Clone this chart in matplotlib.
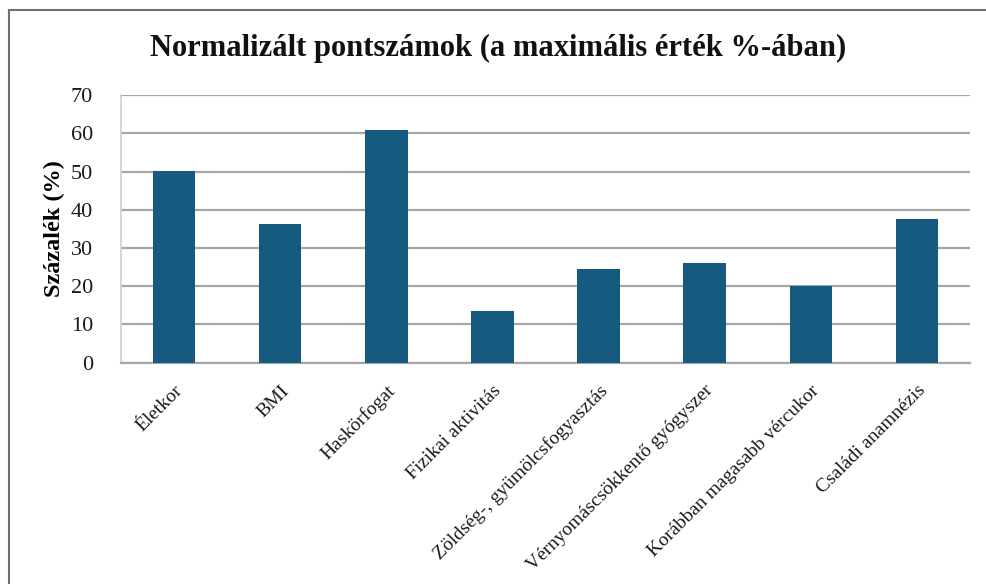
"""
Normalizált pontszámok oszlopdiagram
"""

import matplotlib
matplotlib.use('Agg')
import matplotlib.pyplot as plt
from matplotlib.lines import Line2D

plt.rcParams['font.family'] = ['Liberation Serif', 'DejaVu Serif']

# adatok
categories = ['Életkor', 'BMI', 'Haskörfogat', 'Fizikai aktivitás',
              'Zöldség-, gyümölcsfogyasztás', 'Vérnyomáscsökkentő gyógyszer',
              'Korábban magasabb vércukor', 'Családi anamnézis']
values = [50.1, 36.2, 60.9, 13.6, 24.4, 26.0, 20.1, 37.6]
y_ticks = [0, 10, 20, 30, 40, 50, 60, 70]

bar_color = '#175a80'
grid_color = '#a6a6a6'


def main():
    fig = plt.figure(figsize=(9.86, 5.84), dpi=100)
    ax = fig.add_axes([0.1227, 0.379, 0.861, 0.458])

    x = list(range(len(categories)))
    ax.bar(x, values, width=0.4, color=bar_color, zorder=3)

    ax.set_xlim(-0.5, len(categories) - 0.5)
    ax.set_ylim(0, 70)
    ax.set_yticks(y_ticks)
    ax.yaxis.grid(True, color=grid_color, linewidth=1.6, zorder=0)
    ax.tick_params(axis='both', length=0)
    ax.tick_params(axis='y', labelsize=16, pad=20, colors='#1a1a1a')

    ax.set_xticks(x)
    ax.set_xticklabels(categories, rotation=45, ha='right',
                       rotation_mode='anchor', fontsize=14, color='#1a1a1a')
    ax.tick_params(axis='x', pad=14)

    for side in ['top', 'right']:
        ax.spines[side].set_visible(False)
    ax.spines['bottom'].set_color(grid_color)
    ax.spines['bottom'].set_linewidth(1.6)
    ax.spines['left'].set_color('#d0d0d0')
    ax.spines['left'].set_linewidth(1.2)

    ax.set_ylabel('Százalék (%)', fontsize=17.5, fontweight='bold', labelpad=4)

    fig.text(0.505, 1 - 56 / 584, 'Normalizált pontszámok (a maximális érték %-ában)',
             ha='center', va='baseline', fontsize=22, fontweight='bold', color='#111111')

    # keret (bal és felső vonal)
    fig.add_artist(Line2D([9 / 986, 9 / 986], [0, 1 - 10 / 584],
                          color='#707070', linewidth=1.5))
    fig.add_artist(Line2D([9 / 986, 1], [1 - 10 / 584, 1 - 10 / 584],
                          color='#707070', linewidth=1.5))

    fig.savefig('out.png', dpi=100)


if __name__ == '__main__':
    main()
